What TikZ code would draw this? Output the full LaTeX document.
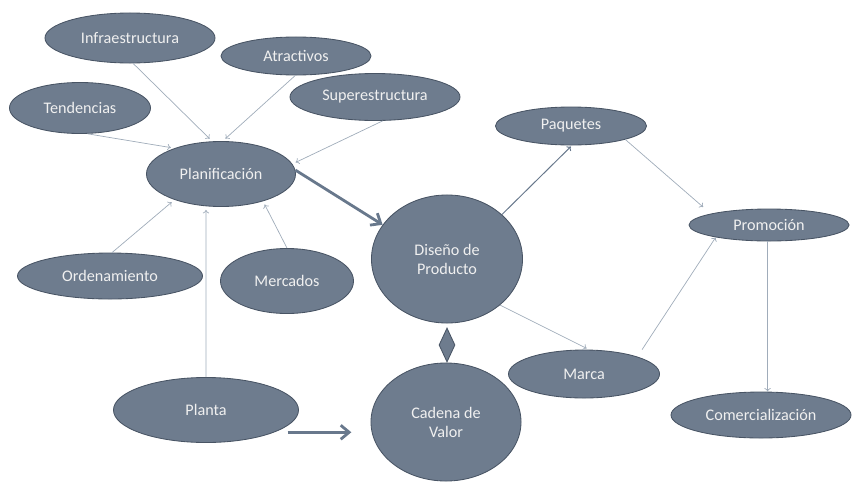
\documentclass[tikz,border=0pt]{standalone}
\usepackage{fontspec}
\setmainfont{Carlito}
\usetikzlibrary{shapes.geometric,arrows.meta}
\definecolor{relleno}{RGB}{110,124,142}
\definecolor{borde}{RGB}{72,84,100}
\definecolor{linea}{RGB}{160,172,186}
\definecolor{lineaosc}{RGB}{104,120,140}
\begin{document}
\begin{tikzpicture}[x=0.025cm,y=-0.025cm,
    elip/.style={ellipse,draw=borde,fill=relleno,line width=0.6pt,text=white!94!black,
      inner sep=0pt,align=center,font=\fontsize{11.5}{13.5}\selectfont},
    fina/.style={-{To[length=2.5pt,width=4.5pt]},draw=linea,line width=0.5pt,shorten >=0.09cm},
    gruesa/.style={-{Straight Barb[length=6pt,width=10pt]},draw=lineaosc,line width=2pt}]
  \useasboundingbox (0,0) rectangle (852,487);
  \draw
    (130,38) node[elip,minimum width=4.25cm,minimum height=1.25cm] (infra){Infraestructura}
    (296,56) node[elip,minimum width=3.75cm,minimum height=0.95cm] (atr){Atractivos}
    (80,108) node[elip,minimum width=3.525cm,minimum height=1.275cm] (tend){Tendencias}
    (375,97) node[elip,minimum width=4.25cm,minimum height=1.175cm] (super){Superestructura}
    (221,174) node[elip,minimum width=3.725cm,minimum height=1.625cm] (plan){Planificación}
    (110,276) node[elip,minimum width=4.625cm,minimum height=1.15cm] (ord){Ordenamiento}
    (287,281) node[elip,minimum width=3.325cm,minimum height=1.625cm] (merc){Mercados}
    (206,410) node[elip,minimum width=4.625cm,minimum height=1.625cm] (planta){Planta}
    (447,259) node[elip,minimum width=3.775cm,minimum height=3.2cm] (diseno){Diseño de\\Producto}
    (446,422) node[elip,minimum width=3.75cm,minimum height=2.95cm] (cadena){Cadena de\\Valor}
    (447,345) node[diamond,draw=borde,fill=relleno,line width=0.6pt,inner sep=0pt,
      minimum width=0.4cm,minimum height=0.85cm] (rombo){}
    (571,126) node[elip,minimum width=3.775cm,minimum height=0.95cm] (paq){Paquetes}
    (584,374) node[elip,minimum width=3.775cm,minimum height=1.2cm] (marca){Marca}
    (769,225) node[elip,minimum width=4.0cm,minimum height=0.8cm] (promo){Promoción}
    (761,415) node[elip,minimum width=4.5cm,minimum height=1.15cm] (comerc){Comercialización};
  \begin{scope}[fina]
    \draw (infra.-83) to (plan.105);
    \draw (atr.-92) to (plan.87);
    \draw (tend.-74) to (plan.151);
    \draw (super.-72) to (plan.8);
    \draw (ord.85) to (plan.-151);
    \draw (planta.north) to (plan.-115);
    \draw (merc.north) to (plan.-33);
    \draw[draw=lineaosc,line width=0.7pt,shorten >=0.04cm] (diseno.39) to (paq.-87);
    \draw[shorten >=0.25cm] (paq.-14) to (promo.169);
    \draw[shorten >=0.07cm] (diseno.-41) to (marca.78);
    \draw[shorten <=0.21cm,shorten >=0pt] (marca.18) to (promo.-167);
    \draw[shorten >=0pt] (promo.-95) to (promo.-95 |- comerc.north);
  \end{scope}
  \draw[gruesa] (plan.3) to (diseno.152);
  \draw[gruesa,shorten <=0.33cm,shorten >=0.48cm] (planta.-18) to (planta.-18 -| cadena.west);
\end{tikzpicture}
\end{document}
